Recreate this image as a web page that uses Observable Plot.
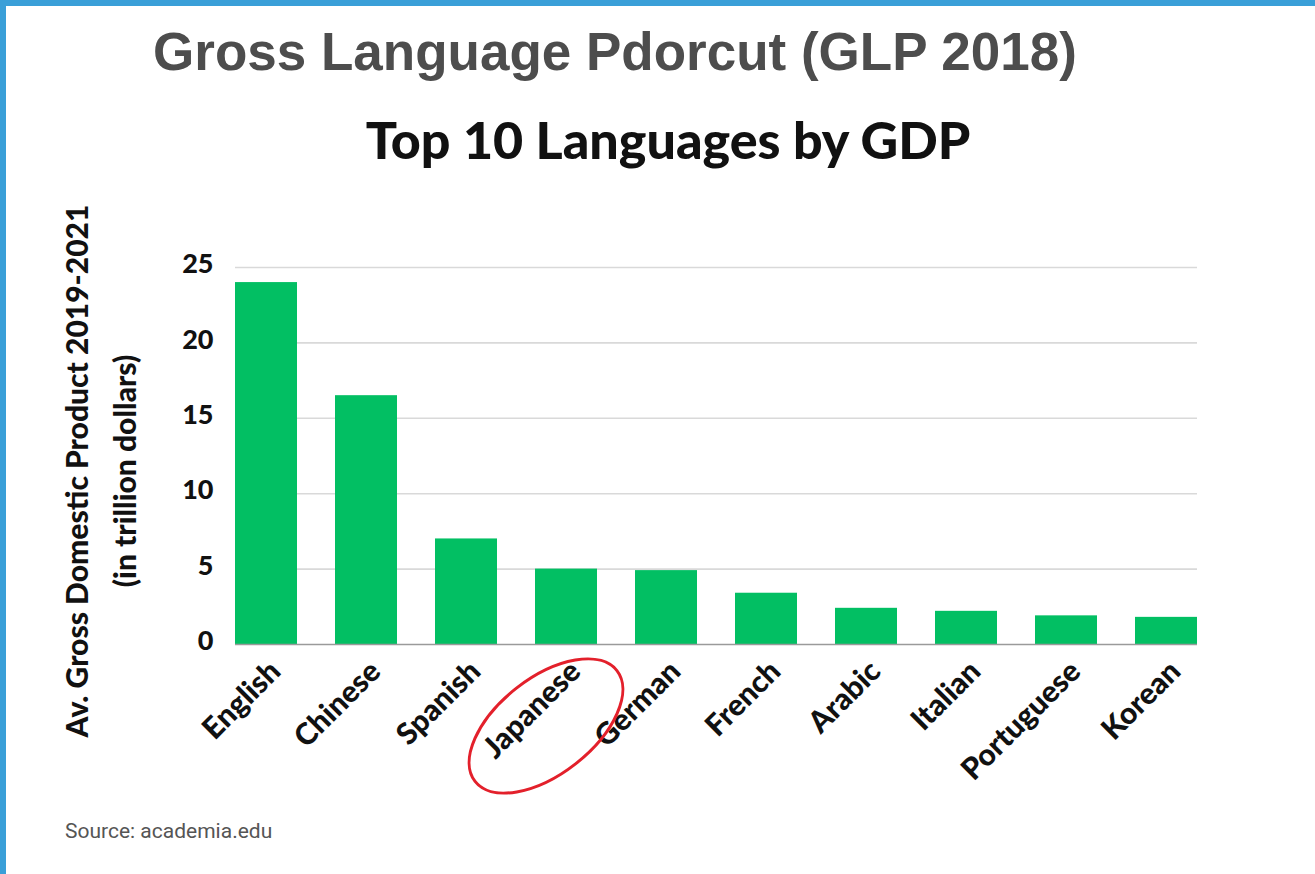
<!DOCTYPE html>
<html>
<head>
<meta charset="utf-8">
<script src="https://cdn.jsdelivr.net/npm/d3@7"></script>
<script src="https://cdn.jsdelivr.net/npm/@observablehq/plot@0.6"></script>
<style>
  html, body { margin: 0; padding: 0; background: #fff; }
  #page { position: relative; width: 1315px; height: 874px; overflow: hidden; background: #fff; }
  #bt { position: absolute; left: 0; top: 0; width: 1315px; height: 6px; background: #3a9fd8; }
  #bl { position: absolute; left: 0; top: 0; width: 6px; height: 874px; background: #3a9fd8; }
  #title { position: absolute; left: 0; top: 17px; width: 1230px; text-align: center;
    font-family: "Liberation Sans", Arial, sans-serif; font-weight: bold; font-size: 53px; color: #4d4d4d; line-height: 70px; }
  #subtitle { position: absolute; left: 0; top: 104px; width: 1336px; text-align: center;
    font-family: Lato, sans-serif; font-weight: 900; font-size: 52px; color: #111; line-height: 70px; }
  #chart { position: absolute; left: 0; top: 170px; }
  #source { position: absolute; left: 65px; top: 819px; font-family: Roboto, sans-serif; font-size: 21px; color: #555; }
</style>
</head>
<body>
<div id="page">
  <div id="bt"></div><div id="bl"></div>
  <div id="title">Gross Language Pdorcut (GLP 2018)</div>
  <div id="subtitle">Top 10 Languages by GDP</div>
  <div id="chart"></div>
  <div id="source">Source: academia.edu</div>
</div>
<script>
const languages = ["English", "Chinese", "Spanish", "Japanese", "German", "French", "Arabic", "Italian", "Portuguese", "Korean"];
const gdp = [24.0, 16.5, 7.0, 5.0, 4.9, 3.4, 2.4, 2.2, 1.9, 1.8];
const yTicks = [0, 5, 10, 15, 20, 25];
const yLabel = "Av. Gross Domestic Product 2019-2021\n(in trillion dollars)";
const highlight = "Japanese";

const data = languages.map((l, i) => ({language: l, value: gdp[i]}));
const font = "Lato, sans-serif";

const ellipseMark = (index, scales, values, dimensions) => {
  const x = scales.x;
  let bw = 62;
  if (x && typeof x.bandwidth === "function") bw = x.bandwidth();
  else if (x && typeof x.bandwidth === "number") bw = x.bandwidth;
  else if (scales.scales && scales.scales.x && scales.scales.x.bandwidth != null) bw = scales.scales.x.bandwidth;
  const cx = x(highlight) + bw / 2 - 20;
  const cy = scales.y(0) + 82;
  const e = d3.create("svg:ellipse")
    .attr("cx", cx).attr("cy", cy)
    .attr("rx", 90).attr("ry", 48)
    .attr("transform", `rotate(-38 ${cx} ${cy})`)
    .attr("fill", "none").attr("stroke", "#e3202b").attr("stroke-width", 3);
  return e.node();
};

const plot = Plot.plot({
  width: 1315,
  height: 640,
  marginLeft: 235,
  marginRight: 118,
  marginTop: 97,
  marginBottom: 166,
  style: {fontFamily: font, background: "transparent", overflow: "visible"},
  x: {domain: languages, paddingInner: 0.38, paddingOuter: 0, label: null},
  y: {domain: [0, 25], label: null},
  marks: [
    Plot.ruleY(yTicks.filter(d => d > 0), {stroke: "#d9d9d9", strokeWidth: 1.6}),
    Plot.barY(data, {x: "language", y: "value", fill: "#02bf63"}),
    Plot.ruleY([0], {stroke: "#9a9a9a", strokeWidth: 1.6}),
    Plot.axisY({ticks: yTicks, tickSize: 0, tickPadding: 22, fontSize: 27, fontWeight: 900, fill: "#111", dy: -3, label: null, tickFormat: d => String(d)}),
    Plot.axisX({tickSize: 0, tickRotate: -45, tickPadding: 14, dx: 9, dy: 8, fontSize: 30, fontWeight: 900, fill: "#111", label: null}),
    Plot.text([yLabel], {text: d => d, frameAnchor: "left", rotate: -90, dx: -139, dy: 15, fontSize: 30, fontWeight: 900, fill: "#111", lineHeight: 1.6, textAnchor: "middle"}),
    ellipseMark
  ]
});
document.getElementById("chart").appendChild(plot);
</script>
</body>
</html>
